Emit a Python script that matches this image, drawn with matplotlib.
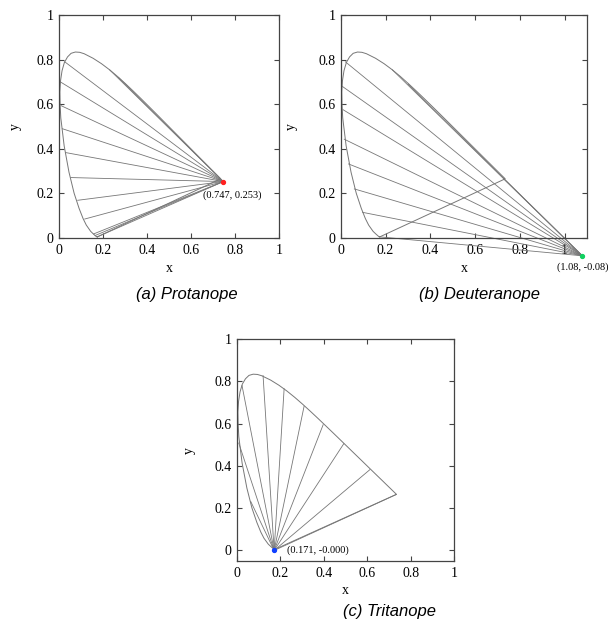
import numpy as np
import matplotlib.pyplot as plt

# CIE 1931 spectral locus (380-700 nm), closed by the purple line
locus_x = [0.1741, 0.1738, 0.1733, 0.1726, 0.1714, 0.1689, 0.1644, 0.1566, 0.1440,
           0.1241, 0.1096, 0.0913, 0.0687, 0.0454, 0.0235, 0.0082, 0.0050, 0.0039,
           0.0070, 0.0139, 0.0245, 0.0389, 0.0550, 0.0743, 0.0940, 0.1142, 0.1547,
           0.1929, 0.2296, 0.2658, 0.3016, 0.3373, 0.3731, 0.4087, 0.4441, 0.4788,
           0.5125, 0.5448, 0.5752, 0.6029, 0.6270, 0.6482, 0.6658, 0.6915, 0.7079,
           0.7190, 0.7260, 0.7300, 0.7334, 0.7347]
locus_y = [0.0050, 0.0049, 0.0048, 0.0048, 0.0051, 0.0069, 0.0109, 0.0177, 0.0297,
           0.0578, 0.0868, 0.1327, 0.2007, 0.2950, 0.4127, 0.5384, 0.5980, 0.6548,
           0.7050, 0.7502, 0.7870, 0.8120, 0.8280, 0.8338, 0.8325, 0.8262, 0.8059,
           0.7816, 0.7543, 0.7243, 0.6923, 0.6589, 0.6245, 0.5896, 0.5547, 0.5202,
           0.4866, 0.4544, 0.4242, 0.3965, 0.3725, 0.3514, 0.3340, 0.3083, 0.2920,
           0.2809, 0.2740, 0.2700, 0.2666, 0.2653]

# copunctal points
protan_pt = (0.747, 0.253)
deutan_pt = (1.08, -0.08)
tritan_pt = (0.171, -0.000)

# confusion line end points on the locus
protan_ex = [0.026, 0.006, 0.010, 0.015, 0.030, 0.053, 0.085, 0.117, 0.174, 0.164, 0.157, 0.23, 0.27]
protan_ey = [0.790, 0.700, 0.593, 0.490, 0.383, 0.271, 0.169, 0.085, 0.005, 0.011, 0.018, 0.754, 0.72]

deutan_ex = [0.020, 0.006, 0.010, 0.015, 0.034, 0.060, 0.097, 0.174, 0.728, 0.23, 0.30]
deutan_ey = [0.790, 0.680, 0.575, 0.443, 0.332, 0.220, 0.115, 0.005, 0.265, 0.754, 0.69]

tritan_ex = [0.023, 0.120, 0.217, 0.309, 0.397, 0.492, 0.612, 0.732, 0.008, 0.063]
tritan_ey = [0.780, 0.827, 0.765, 0.682, 0.595, 0.505, 0.382, 0.264, 0.508, 0.232]

captions = ['(a) Protanope', '(b) Deuteranope', '(c) Tritanope']
labels = ['(0.747, 0.253)', '(1.08, -0.08)', '(0.171, -0.000)']

GRAY = '#777777'
SERIF = 'Liberation Serif'

fig = plt.figure(figsize=(6.12, 6.23), dpi=100)


def draw_panel(rect, pt, ex, ey, dot_color, label, offset, ha, xlim, ylim):
    ax = fig.add_axes(rect)
    lx = list(locus_x) + [locus_x[0]]
    ly = list(locus_y) + [locus_y[0]]
    ax.plot(lx, ly, color=GRAY, lw=0.7, solid_joinstyle='round')
    for x0, y0 in zip(ex, ey):
        ax.plot([x0, pt[0]], [y0, pt[1]], color=GRAY, lw=0.6, clip_on=False)
    ax.plot([pt[0]], [pt[1]], 'o', color=dot_color, ms=2.8, clip_on=False, zorder=5)
    ax.annotate(label, pt, xytext=offset, textcoords='offset points', ha=ha,
                va='center', fontsize=7.5, family=SERIF, annotation_clip=False)
    ax.set_xlim(*xlim)
    ax.set_ylim(*ylim)
    ax.set_xticks([0, 0.2, 0.4, 0.6, 0.8, 1])
    ax.set_yticks([0, 0.2, 0.4, 0.6, 0.8, 1])
    ax.set_xticklabels(['0', '0.2', '0.4', '0.6', '0.8', '1'])
    ax.set_yticklabels(['0', '0.2', '0.4', '0.6', '0.8', '1'])
    ax.tick_params(direction='in', top=True, right=True, length=3.5, width=0.8,
                   color='#444444', labelsize=10, pad=4)
    for t in ax.get_xticklabels() + ax.get_yticklabels():
        t.set_family(SERIF)
    for s in ax.spines.values():
        s.set_color('#444444')
        s.set_linewidth(0.9)
    return ax


ax1 = draw_panel([0.0964, 0.618, 0.3595, 0.358], protan_pt, protan_ex, protan_ey,
                 '#ff2020', labels[0], (-15, -10), 'left', (0, 1), (0, 1))
ax1.text(0.5, -0.135, 'x', transform=ax1.transAxes, ha='center', va='center',
         fontsize=10, family=SERIF)
ax1.text(-0.2, 0.5, 'y', transform=ax1.transAxes, ha='center', va='center',
         rotation=90, fontsize=10, family=SERIF)

ax2 = draw_panel([0.557, 0.618, 0.402, 0.358], deutan_pt, deutan_ex, deutan_ey,
                 '#10d060', labels[1], (0, -8), 'center', (0, 1.1), (0, 1))
ax2.text(0.5, -0.135, 'x', transform=ax2.transAxes, ha='center', va='center',
         fontsize=10, family=SERIF)
ax2.text(-0.2, 0.5, 'y', transform=ax2.transAxes, ha='center', va='center',
         rotation=90, fontsize=10, family=SERIF)

ax3 = draw_panel([0.3873, 0.0995, 0.3546, 0.3563], tritan_pt, tritan_ex, tritan_ey,
                 '#1040ff', labels[2], (9, 0), 'left', (0, 1), (-0.05, 1))
ax3.text(0.5, -0.135, 'x', transform=ax3.transAxes, ha='center', va='center',
         fontsize=10, family=SERIF)
ax3.text(-0.221, 0.5, 'y', transform=ax3.transAxes, ha='center', va='center',
         rotation=90, fontsize=10, family=SERIF)

cap_pos = [(0.3056, 0.527), (0.784, 0.527), (0.637, 0.018)]
for (cx, cy), cap in zip(cap_pos, captions):
    fig.text(cx, cy, cap, ha='center', va='center', fontsize=12,
             style='italic', family='Liberation Sans')

fig.savefig('out.png', dpi=100)
